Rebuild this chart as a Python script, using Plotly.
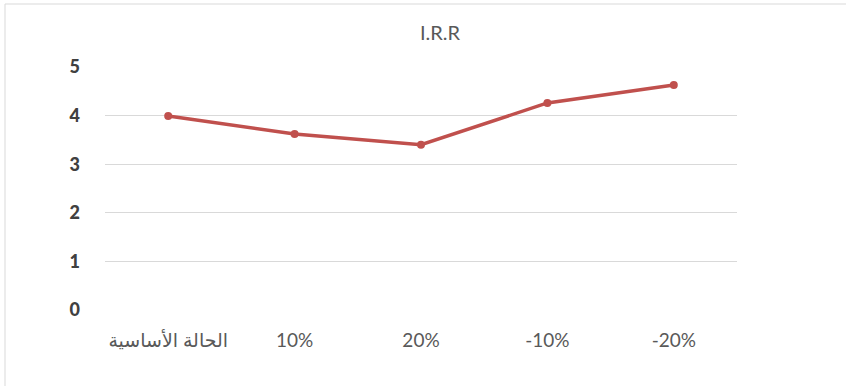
import plotly.graph_objects as go

categories = ["الحالة الأساسية", "10%", "20%", "-10%", "-20%"]
irr_values = [3.99, 3.62, 3.40, 4.26, 4.63]
y_ticks = [0, 1, 2, 3, 4, 5]
title_text = "I.R.R"

W, H = 846, 386
L, R, T, B = 105, 109, 67, 76
pw, ph = W - L - R, H - T - B

fig = go.Figure()
fig.add_trace(go.Scatter(
    x=list(range(len(categories))), y=irr_values, mode="lines+markers",
    line=dict(color="#c0504d", width=3.5),
    marker=dict(color="#c0504d", size=8),
    showlegend=False, hoverinfo="skip"))

fig.update_layout(
    width=W, height=H,
    margin=dict(l=L, r=R, t=T, b=B),
    paper_bgcolor="white", plot_bgcolor="white",
    font=dict(family="Lato, DejaVu Sans", color="#595959", size=16),
    title=dict(text=title_text, x=(440) / W, xanchor="center",
               y=1 - 33 / H, yanchor="middle",
               font=dict(size=20, color="#595959")),
    xaxis=dict(tickmode="array", tickvals=list(range(len(categories))),
               ticktext=categories, range=[-0.5, len(categories) - 0.5],
               showgrid=False, zeroline=False, showline=False, ticks="",
               ticklabelstandoff=17, fixedrange=True,
               tickfont=dict(size=19, color="#595959")),
    yaxis=dict(range=[0, 5], tickvals=y_ticks, showgrid=True,
               gridcolor="#d9d9d9", gridwidth=1, zeroline=False,
               showline=False, ticks="", ticklabelstandoff=24,
               tickfont=dict(size=18, color="#404040", family="Lato Black, Lato, DejaVu Sans"),
               fixedrange=True),
    shapes=[
        dict(type="line", xref="paper", yref="paper",
             x0=(5 - L) / pw, x1=(W - L) / pw, y0=1 + (T - 4) / ph, y1=1 + (T - 4) / ph,
             line=dict(color="#d9d9d9", width=1)),
        dict(type="line", xref="paper", yref="paper",
             x0=(5 - L) / pw, x1=(5 - L) / pw, y0=1 + (T - 4) / ph, y1=-(B) / ph,
             line=dict(color="#d9d9d9", width=1)),
    ],
)
fig.write_html("out.html")
